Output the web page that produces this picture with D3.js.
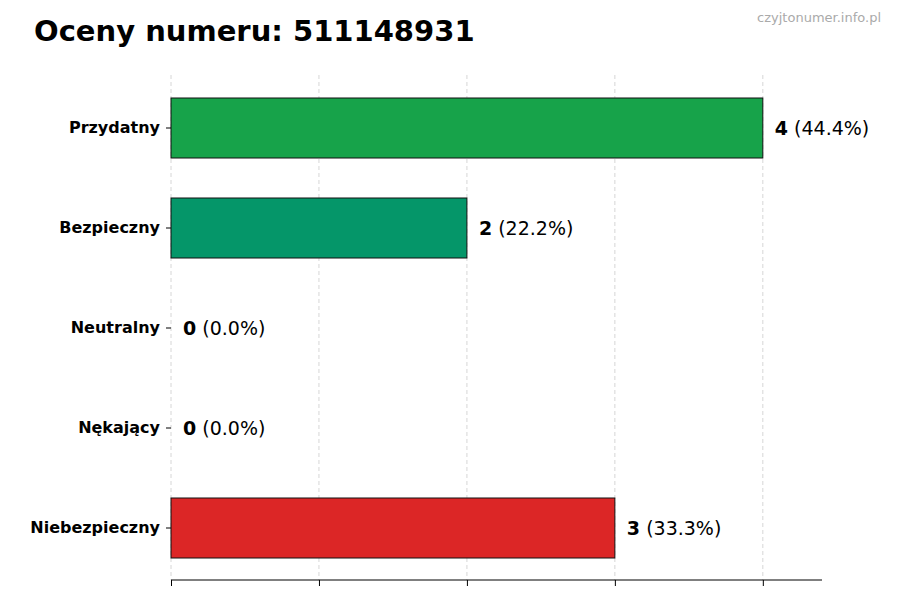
<!DOCTYPE html>
<html><head><meta charset="utf-8">
<script src="https://cdn.jsdelivr.net/npm/d3@7"></script>
<style>body{margin:0;background:#fff}</style></head>
<body><svg id="c" width="900" height="600"></svg>
<script>
const categories=["Przydatny","Bezpieczny","Neutralny","Nękający","Niebezpieczny"];
const values=[4,2,0,0,3];
const percents=["44.4%","22.2%","0.0%","0.0%","33.3%"];
const colors=["#17a34a","#059669","#9ca3af","#ea580c","#dc2626"];
const xTicks=[0,1,2,3,4];
const svg=d3.select("#c");
const font="DejaVu Sans, sans-serif";
const x=d3.scaleLinear().domain([0,4.4]).range([171,822]);
const y=d3.scaleBand().domain(categories).range([78,578]).paddingInner(0.4).paddingOuter(0.2);
svg.append("text").attr("x",34).attr("y",41).attr("font-family",font).attr("font-size",29).attr("font-weight","bold").text("Oceny numeru: 511148931");
svg.append("text").attr("x",881).attr("y",22).attr("text-anchor","end").attr("font-family",font).attr("font-size",13).attr("fill","#aaa").text("czyjtonumer.info.pl");
svg.selectAll(".g").data(xTicks).enter().append("line").attr("x1",d=>x(d)).attr("x2",d=>x(d)).attr("y1",75).attr("y2",580).attr("stroke","#ccc").attr("stroke-dasharray","4,3").attr("stroke-width",0.8);
svg.selectAll(".b").data(categories).enter().append("rect").attr("x",x(0)).attr("y",d=>y(d)).attr("height",y.bandwidth()).attr("width",(d,i)=>x(values[i])-x(0)).attr("fill",(d,i)=>colors[i]).attr("stroke","#111").attr("stroke-width",1);
const lab=svg.selectAll(".l").data(categories).enter().append("text").attr("x",(d,i)=>x(values[i])+12).attr("y",d=>y(d)+y.bandwidth()/2+7).attr("font-family",font).attr("font-size",19);
lab.append("tspan").attr("font-weight","bold").text((d,i)=>values[i]);
lab.append("tspan").text((d,i)=>" ("+percents[i]+")");
const ya=svg.append("g").attr("transform","translate(171,0)").call(d3.axisLeft(y).tickSize(5).tickPadding(6));
ya.select(".domain").remove();
ya.selectAll("text").attr("font-family",font).attr("font-size",16).attr("font-weight","bold").attr("fill","#000");
const xa=svg.append("g").attr("transform","translate(0,580)").call(d3.axisBottom(x).tickValues(xTicks).tickSize(6).tickFormat(""));
xa.select(".domain").attr("d","M171,0H822");
</script></body></html>
